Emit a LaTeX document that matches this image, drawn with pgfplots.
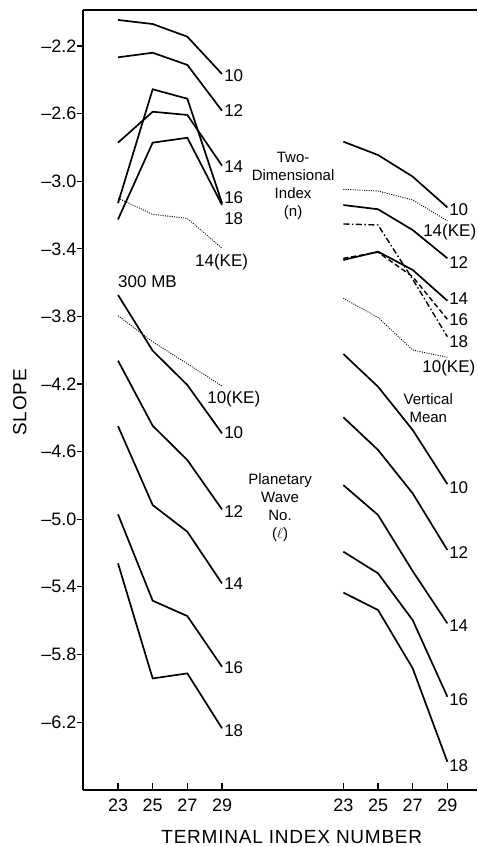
\documentclass[border=0pt]{standalone}
\usepackage{fontspec}
\setmainfont{Liberation Sans}
\newfontfamily\widefont[LetterSpace=4]{Liberation Sans}
\usepackage{pgfplots}
\pgfplotsset{compat=1.18}
\tikzset{
  lab/.style={anchor=west, inner sep=0pt, font=\fontsize{17bp}{19bp}\selectfont},
  ann/.style={anchor=center, inner sep=0pt, align=center, font=\fontsize{15bp}{18bp}\selectfont},
  sol/.style={black, line width=1.7bp},
  kee/.style={black, line width=0.9bp, dash pattern=on 1bp off 1.3bp},
  dsh/.style={black, line width=1.4bp, dash pattern=on 5bp off 3bp},
  dsd/.style={black, line width=1.4bp, dash pattern=on 6bp off 2.5bp on 1.5bp off 2.5bp},
}
\begin{document}
\begin{tikzpicture}
\begin{axis}[name=ax, scale only axis, width=394bp, height=780bp,
  xmin=20.98, xmax=43.71, ymin=-6.602, ymax=-1.987,
  axis x line*=bottom, axis y line*=left,
  axis line style={-, line width=1.3bp},
  xtick={23,25,27,29,36,38,40,42},
  xticklabels={23,25,27,29,23,25,27,29},
  ytick={-2.2,-2.6,-3.0,-3.4,-3.8,-4.2,-4.6,-5.0,-5.4,-5.8,-6.2},
  yticklabels={--2.2,--2.6,--3.0,--3.4,--3.8,--4.2,--4.6,--5.0,--5.4,--5.8,--6.2},
  tick align=inside, major tick length=7bp,
  tick style={black, line width=1.1bp},
  ytick style={xshift=-6bp},
  ticklabel style={font=\fontsize{18bp}{20bp}\selectfont},
  yticklabel style={xshift=-3bp},
  xticklabel style={yshift=-5bp},
  xlabel={TERMINAL INDEX NUMBER},
  ylabel={SLOPE},
  label style={font=\widefont\fontsize{19bp}{21bp}\selectfont},
  xlabel style={at={(axis description cs:0.530,-0.0603)}, anchor=center},
  ylabel style={at={(axis description cs:-0.16,0.497)}, anchor=center},
  clip=false]
\draw[line width=1.3bp] (rel axis cs:0,1) -- (rel axis cs:1,1);
% ---- 300 MB, two-dimensional index
\addplot[sol] coordinates {(23,-2.046) (25,-2.070) (27,-2.145) (29,-2.366)};
\addplot[sol] coordinates {(23,-2.267) (25,-2.240) (27,-2.312) (29,-2.583)};
\addplot[sol] coordinates {(23,-2.772) (25,-2.589) (27,-2.608) (29,-2.908)};
\addplot[sol] coordinates {(23,-3.13) (25,-2.456) (27,-2.512) (29,-3.130)};
\addplot[sol] coordinates {(23,-3.226) (25,-2.772) (27,-2.743) (29,-3.140)};
\addplot[kee] coordinates {(23,-3.10) (25,-3.196) (27,-3.220) (29,-3.397)};
% ---- 300 MB, planetary wave number
\addplot[kee] coordinates {(23,-3.796) (25,-3.95) (27,-4.08) (29,-4.212)};
\addplot[sol] coordinates {(23,-3.673) (25,-4.003) (27,-4.206) (29,-4.492)};
\addplot[sol] coordinates {(23,-4.062) (25,-4.447) (27,-4.650) (29,-4.942)};
\addplot[sol] coordinates {(23,-4.449) (25,-4.916) (27,-5.074) (29,-5.380)};
\addplot[sol] coordinates {(23,-4.971) (25,-5.482) (27,-5.573) (29,-5.873)};
\addplot[sol] coordinates {(23,-5.261) (25,-5.942) (27,-5.912) (29,-6.237)};
% ---- vertical mean, two-dimensional index (x+13)
\addplot[sol] coordinates {(36,-2.766) (38,-2.845) (40,-2.973) (42,-3.155)};
\addplot[kee] coordinates {(36,-3.048) (38,-3.058) (40,-3.111) (42,-3.234)};
\addplot[sol] coordinates {(36,-3.141) (38,-3.166) (40,-3.289) (42,-3.456)};
\addplot[sol] coordinates {(36,-3.466) (38,-3.417) (40,-3.525) (42,-3.707)};
\addplot[dsh] coordinates {(36,-3.456) (38,-3.42) (40,-3.565) (42,-3.817)};
\addplot[dsd] coordinates {(36,-3.253) (38,-3.259) (40,-3.58) (42,-3.92)};
% ---- vertical mean, planetary wave number
\addplot[kee] coordinates {(36,-3.693) (38,-3.806) (40,-3.999) (42,-4.042)};
\addplot[sol] coordinates {(36,-4.022) (38,-4.216) (40,-4.472) (42,-4.792)};
\addplot[sol] coordinates {(36,-4.397) (38,-4.590) (40,-4.847) (42,-5.182)};
\addplot[sol] coordinates {(36,-4.798) (38,-4.975) (40,-5.307) (42,-5.616)};
\addplot[sol] coordinates {(36,-5.192) (38,-5.320) (40,-5.597) (42,-6.050)};
\addplot[sol] coordinates {(36,-5.434) (38,-5.537) (40,-5.882) (42,-6.435)};
% ---- labels, left
\node[lab] at (axis cs:29.12,-2.378) {10};
\node[lab] at (axis cs:29.12,-2.585) {12};
\node[lab] at (axis cs:29.12,-2.916) {14};
\node[lab] at (axis cs:29.12,-3.099) {16};
\node[lab] at (axis cs:29.12,-3.224) {18};
\node[lab] at (axis cs:27.44,-3.478) {14(KE)};
\node[lab] at (axis cs:23.0,-3.596) {300 MB};
\node[lab] at (axis cs:28.14,-4.289) {10(KE)};
\node[lab] at (axis cs:29.12,-4.49) {10};
\node[lab] at (axis cs:29.12,-4.957) {12};
\node[lab] at (axis cs:29.12,-5.383) {14};
\node[lab] at (axis cs:29.12,-5.879) {16};
\node[lab] at (axis cs:29.12,-6.253) {18};
% ---- labels, right
\node[lab] at (axis cs:42.1,-3.170) {10};
\node[lab] at (axis cs:40.6,-3.30) {14(KE)};
\node[lab] at (axis cs:42.1,-3.481) {12};
\node[lab] at (axis cs:42.1,-3.697) {14};
\node[lab] at (axis cs:42.1,-3.821) {16};
\node[lab] at (axis cs:42.1,-3.95) {18};
\node[lab] at (axis cs:40.55,-4.105) {10(KE)};
\node[lab] at (axis cs:42.1,-4.815) {10};
\node[lab] at (axis cs:42.1,-5.20) {12};
\node[lab] at (axis cs:42.1,-5.632) {14};
\node[lab] at (axis cs:42.1,-6.07) {16};
\node[lab] at (axis cs:42.1,-6.46) {18};
% ---- annotations
\node[ann] at (axis cs:33.1,-3.028) {Two-\\Dimensional\\Index\\(n)};
\node[ann] at (axis cs:40.9,-4.342) {Vertical\\Mean};
\node[ann] at (axis cs:32.35,-4.934) {Planetary\\Wave\\No.\\($\ell$)};
\end{axis}
\pgfresetboundingbox
\path[use as bounding box] ([xshift=-83bp,yshift=-57bp]ax.south west) rectangle ([xshift=1bp,yshift=10bp]ax.north east);
\end{tikzpicture}
\end{document}
